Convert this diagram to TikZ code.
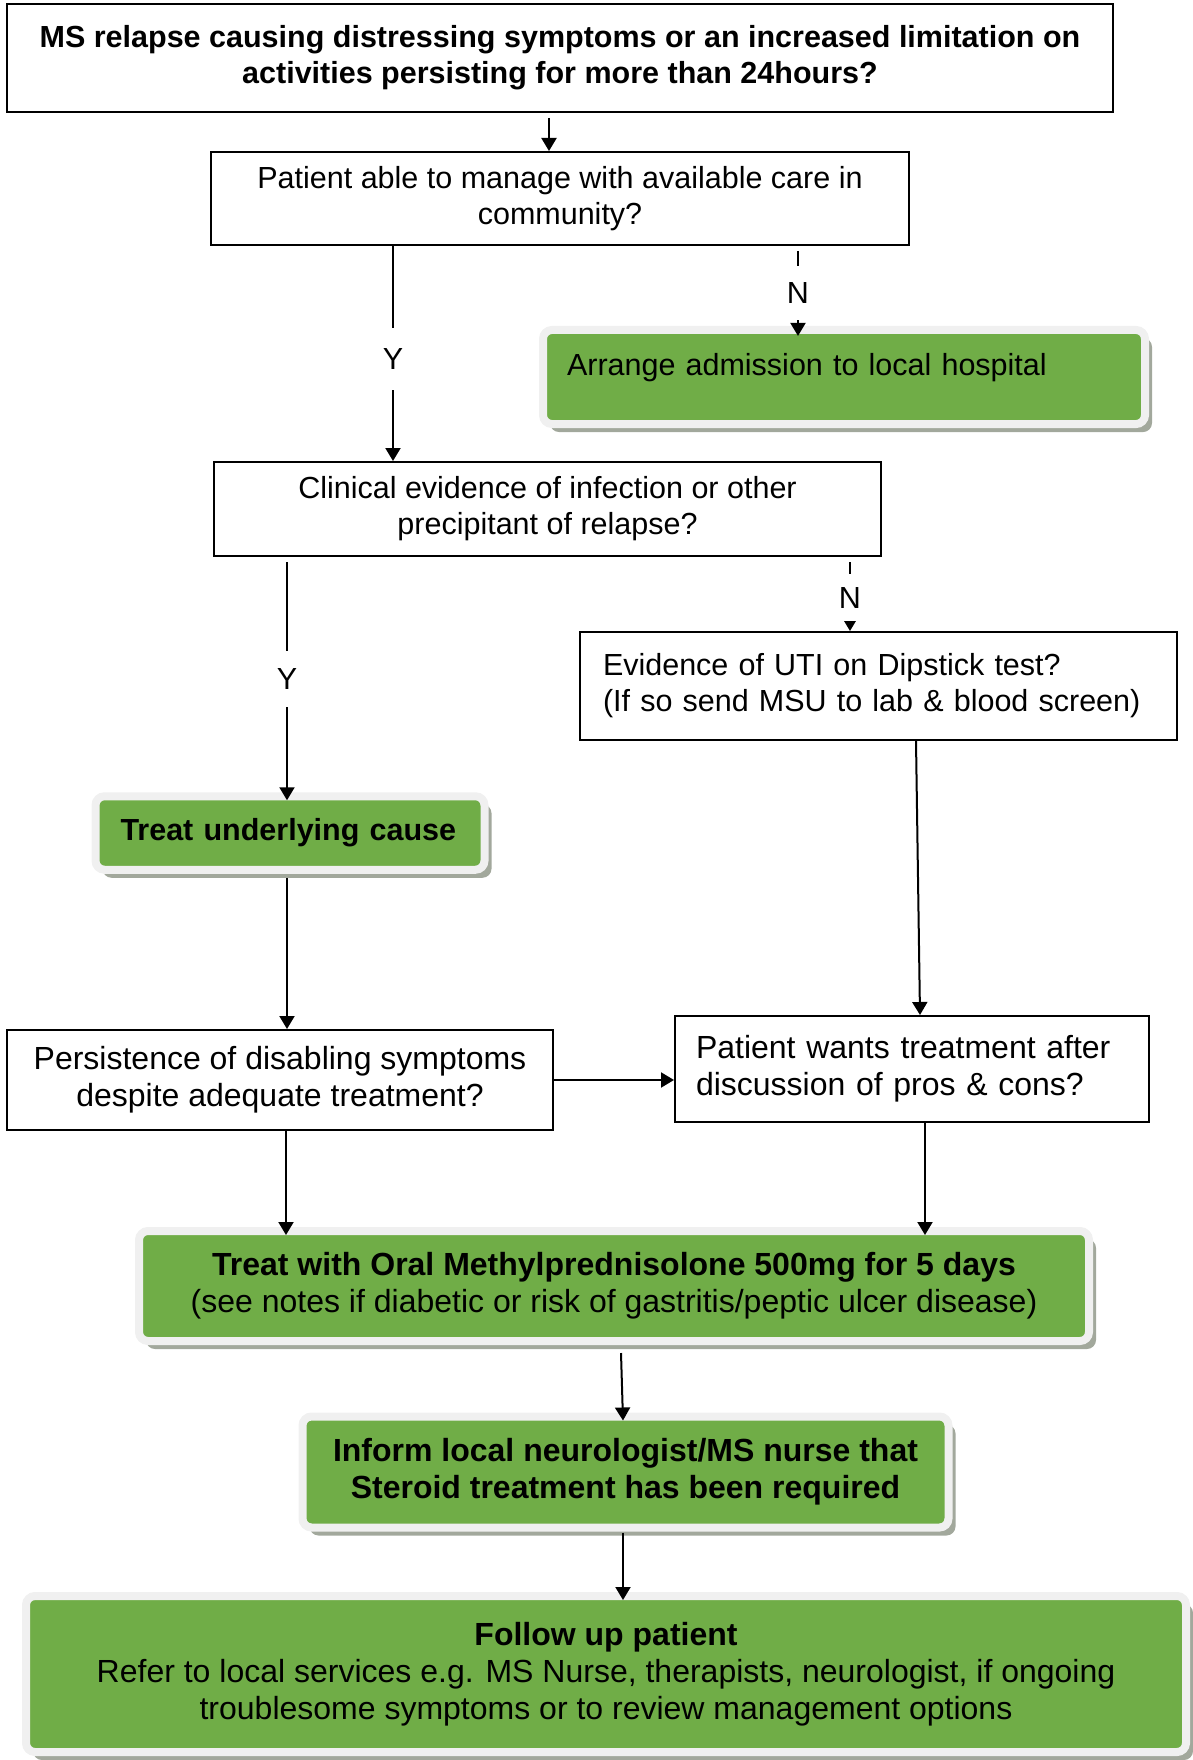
\documentclass[tikz,border=0pt]{standalone}
\usepackage{fontspec}
\setmainfont{Liberation Sans}
\usetikzlibrary{arrows.meta,shadows}
\definecolor{leafgreen}{HTML}{70AD47}
\definecolor{framegray}{HTML}{F0F0F0}
\definecolor{shadegray}{HTML}{A2A89C}
\newcommand{\flowfont}{\fontsize{30.5}{36}\selectfont}
\newcommand{\widefont}{\fontsize{32}{37}\selectfont}

\begin{document}
\begin{tikzpicture}[x=1pt,y=-1pt,
    every node/.style={font=\flowfont},
    qbox/.style={draw,line width=2pt,fill=white,align=center,inner sep=0pt},
    gbox/.style={fill=leafgreen,draw=framegray,line width=8pt,rounded corners=9pt,
      outer sep=0pt,inner sep=0pt,
      drop shadow={shadow xshift=7pt,shadow yshift=-8pt,fill=shadegray,opacity=1}},
    arr/.style={-{Triangle[length=13pt,width=15pt]},line width=2pt},
    yn/.style={fill=white,inner sep=0pt,minimum width=30pt}]
        \useasboundingbox (0,0) rectangle (1192,1760) ;
        %\draw[very thin,gray,step=50] (0,0) grid (1192,1760) ;
        % questions
        \node[qbox,minimum width=1106pt,minimum height=108pt,font=\flowfont\bfseries] (relapse) at (560,58)
          {MS relapse causing distressing symptoms or an increased limitation on\\activities persisting for more than 24hours?} ;
        \node[qbox,minimum width=698pt,minimum height=93pt] (manage) at (560,198.5)
          {Patient able to manage with available care in\\community?} ;
        \node[qbox,minimum width=667pt,minimum height=94pt] (infection) at (547.5,509)
          {Clinical evidence of infection or other\\precipitant of relapse?} ;
        \node[qbox,text width=551pt,align=left,inner xsep=23pt,minimum height=108pt] (dipstick) at (878.5,686)
          {Evidence of UTI on Dipstick test?\\(If so send MSU to lab \& blood screen)} ;
        \node[qbox,minimum width=546pt,minimum height=100pt,font=\widefont] (persist) at (280,1080)
          {Persistence of disabling symptoms\\despite adequate treatment?} ;
        \node[qbox,text width=432pt,align=left,inner xsep=21pt,minimum height=106pt,font=\widefont] (wants) at (912,1069)
          {Patient wants treatment after\\discussion of pros \& cons?} ;
        % actions
        \node[gbox,text width=554pt,align=left,inner xsep=24pt,inner ysep=23pt,text depth=26pt] (hospital) at (844,377)
          {Arrange admission to local hospital} ;
        \node[gbox,text width=339pt,align=left,inner xsep=25pt,minimum height=73.5pt,font=\flowfont\bfseries] (cause) at (290,833)
          {Treat underlying cause} ;
        \node[gbox,minimum width=950pt,minimum height=110pt,align=center,font=\widefont] (oral) at (614,1286)
          {\textbf{Treat with Oral Methylprednisolone 500mg for 5 days}\\(see notes if diabetic or risk of gastritis/peptic ulcer disease)} ;
        \node[gbox,minimum width=646pt,minimum height=111pt,align=center,font=\widefont\bfseries] (inform) at (625.5,1472)
          {Inform local neurologist/MS nurse that\\Steroid treatment has been required} ;
        \node[gbox,minimum width=1160pt,minimum height=156pt,align=center,font=\widefont] (follow) at (606,1674)
          {\textbf{Follow up patient}\\Refer to local services e.g. MS Nurse, therapists, neurologist, if ongoing\\troublesome symptoms or to review management options} ;
        % connectors
        \draw[arr] ([shift={(-11,5)}]relapse.south) -- ([xshift=-11pt]manage.north) ;
        \draw[arr] ([xshift=-167pt]manage.south) -- node[yn,minimum height=62pt,pos=0.526]{Y}
          ([xshift=-154.5pt]infection.north) ;
        \draw[arr] ([shift={(238,5)}]manage.south) -- node[yn,minimum height=54pt,pos=0.496]{N}
          ([shift={(-46,6)}]hospital.north) ;
        \draw[arr] ([shift={(-260.5,5)}]infection.south) -- node[yn,minimum height=56pt,pos=0.49]{Y}
          ([shift={(-3,4)}]cause.north) ;
        \draw[arr] ([shift={(302.5,5)}]infection.south) -- node[yn,minimum height=47pt,pos=0.52]{N}
          ([xshift=-28.5pt]dipstick.north) ;
        \draw[arr] ([xshift=37.5pt]dipstick.south) -- ([xshift=8pt]wants.north) ;
        \draw[arr] ([shift={(-3,8)}]cause.south) -- ([xshift=7pt]persist.north) ;
        \draw[arr] (persist.east) -- (persist.east -| wants.west) ;
        \draw[arr] ([xshift=6pt]persist.south) -- ([shift={(-328,4)}]oral.north) ;
        \draw[arr] ([xshift=13pt]wants.south) -- ([shift={(311,4)}]oral.north) ;
        \draw[arr] ([shift={(7,12)}]oral.south) -- ([shift={(-2.5,4)}]inform.north) ;
        \draw[arr] ([shift={(-2.5,5)}]inform.south) -- ([shift={(17,4)}]follow.north) ;
      \end{tikzpicture}
\end{document}
